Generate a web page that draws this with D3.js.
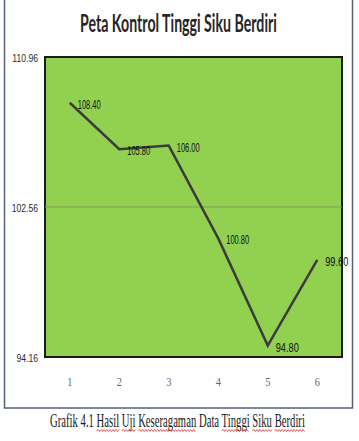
<!DOCTYPE html>
<html>
<head>
<meta charset="utf-8">
<script src="https://cdn.jsdelivr.net/npm/d3@7"></script>
<style>
  body { margin: 0; background: #ffffff; }
  svg { display: block; }
</style>
</head>
<body>
<div id="container"></div>
<script>
const samples = [1, 2, 3, 4, 5, 6];
const values = [108.40, 105.80, 106.00, 100.80, 94.80, 99.60];
const yTicks = [94.16, 102.56, 110.96];
const centerLine = 102.56;
const title = 'Peta Kontrol Tinggi Siku Berdiri';
const caption = 'Grafik 4.1 Hasil Uji Keseragaman Data Tinggi Siku Berdiri';
const flaggedWords = ['Hasil', 'Uji', 'Keseragaman', 'Tinggi', 'Siku', 'Berdiri'];

const width = 359;
const height = 441;
const plot = { left: 45, right: 342, top: 57, bottom: 357 };
const sans = '"Liberation Sans", Arial, sans-serif';
const serif = '"Liberation Serif", "Times New Roman", serif';

const svg = d3.select('#container').append('svg')
  .attr('width', width)
  .attr('height', height);

// squeeze a text horizontally so it spans the given width (narrow fonts aren't installed)
const condense = (sel, x0, y0, target) => {
  sel.attr('x', 0).attr('y', 0);
  const w = sel.node().getComputedTextLength();
  const sx = target / w;
  sel.attr('transform', `translate(${x0},${y0}) scale(${sx},1)`);
  return sx;
};

// outer frame (chart object border, open at the top)
svg.append('path')
  .attr('d', 'M4.5,0 V408 H352.5 V0')
  .attr('fill', 'none')
  .attr('stroke', '#56607a')
  .attr('stroke-width', 1.5);

const x = d3.scaleBand()
  .domain(samples)
  .range([plot.left, plot.right]);

const y = d3.scaleLinear()
  .domain([yTicks[0], yTicks[yTicks.length - 1]])
  .range([plot.bottom, plot.top]);

const cx = d => x(d) + x.bandwidth() / 2;

// plot area
svg.append('rect')
  .attr('x', plot.left)
  .attr('y', plot.top)
  .attr('width', plot.right - plot.left)
  .attr('height', plot.bottom - plot.top)
  .attr('fill', '#92d050')
  .attr('stroke', '#1a1a1a')
  .attr('stroke-width', 2);

// centre line
svg.append('line')
  .attr('x1', plot.left)
  .attr('x2', plot.right)
  .attr('y1', y(centerLine))
  .attr('y2', y(centerLine))
  .attr('stroke', '#7f9c63')
  .attr('stroke-width', 1);

// axes
const yAxis = svg.append('g')
  .attr('transform', `translate(${plot.left},0)`)
  .call(d3.axisLeft(y).tickValues(yTicks).tickSize(0).tickPadding(7).tickFormat(d3.format('.2f')));
yAxis.select('.domain').remove();
yAxis.selectAll('text')
  .attr('font-family', sans)
  .attr('font-size', 11.5)
  .attr('fill', '#2a2a2a')
  .attr('dy', '0.35em')
  .attr('x', 0)
  .attr('transform', 'translate(-7,0) scale(0.75,1)');

const xAxis = svg.append('g')
  .attr('transform', `translate(0,${plot.bottom})`)
  .call(d3.axisBottom(x).tickSize(0).tickPadding(20));
xAxis.select('.domain').remove();
xAxis.selectAll('text')
  .attr('font-family', serif)
  .attr('font-size', 13)
  .attr('fill', '#666666')
  .attr('y', 0)
  .attr('dy', '0.71em')
  .attr('transform', 'translate(0,20) scale(0.8,1)');

// series line
const line = d3.line()
  .x((d, i) => cx(samples[i]))
  .y(d => y(d));

svg.append('path')
  .datum(values)
  .attr('d', line)
  .attr('fill', 'none')
  .attr('stroke', '#3c3c3c')
  .attr('stroke-width', 2.5)
  .attr('stroke-linejoin', 'miter');

// data labels
svg.append('g').selectAll('text')
  .data(values)
  .join('text')
  .attr('font-family', sans)
  .attr('font-size', 12.5)
  .attr('fill', '#111111')
  .text(d => d3.format('.2f')(d))
  .each(function (d, i) {
    condense(d3.select(this), cx(samples[i]) + 8, y(d) + 6, 23);
  });

// title
const titleText = svg.append('text')
  .attr('font-family', 'Lato, "Open Sans", sans-serif')
  .attr('font-weight', 'bold')
  .attr('font-size', 25)
  .attr('fill', '#262626')
  .text(title);
condense(titleText, 80, 32, 197);

// caption below the chart, with spell-check squiggles
const capX = 50;
const capW = 255;
const capY = 427;
const cap = svg.append('text')
  .attr('font-family', serif)
  .attr('font-size', 18)
  .attr('fill', '#1a1a1a')
  .text(caption);
const k = condense(cap, capX, capY, capW);

const squiggle = (x0, x1, yy) => {
  let p = `M${x0},${yy}`;
  let up = true;
  for (let xx = x0 + 1.5; xx <= x1; xx += 1.5) {
    p += ` L${xx},${yy + (up ? -1 : 1)}`;
    up = !up;
  }
  return p;
};

let searchFrom = 0;
flaggedWords.forEach(word => {
  const idx = caption.indexOf(word, searchFrom);
  searchFrom = idx + word.length;
  const start = idx === 0 ? 0 : cap.node().getSubStringLength(0, idx);
  const len = cap.node().getSubStringLength(idx, word.length);
  svg.append('path')
    .attr('d', squiggle(capX + start * k, capX + (start + len) * k, capY + 3.5))
    .attr('fill', 'none')
    .attr('stroke', '#e03030')
    .attr('stroke-width', 0.8);
});
</script>
</body>
</html>
